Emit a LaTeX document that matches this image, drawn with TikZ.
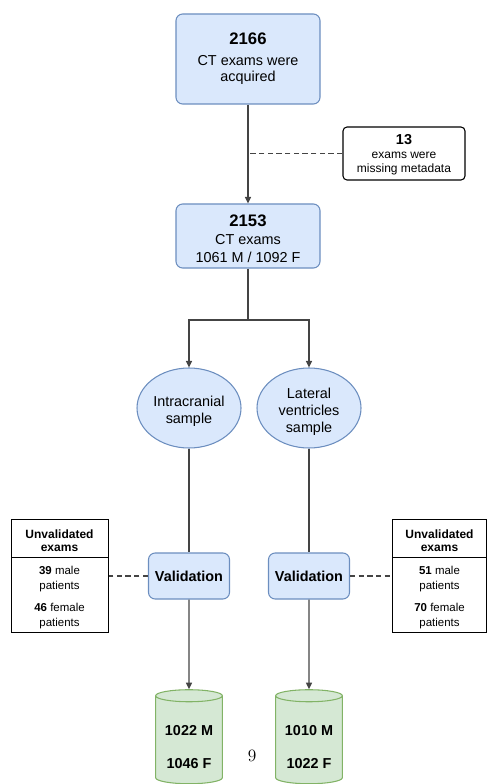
\documentclass[tikz,border=0pt]{standalone}
\usepackage{fontspec}
\setsansfont{Liberation Sans}
\usetikzlibrary{shapes.geometric,arrows.meta}

\definecolor{boxblue}{HTML}{DAE8FC}
\definecolor{edgeblue}{HTML}{6C8EBF}
\definecolor{boxgreen}{HTML}{D5E8D4}
\definecolor{edgegreen}{HTML}{82B366}
\definecolor{linegray}{HTML}{444444}

\newcommand{\bignum}[1]{{\fontsize{12.5}{14}\selectfont\bfseries #1}}

\begin{document}
\begin{tikzpicture}[x=0.75pt, y=-0.75pt, font=\sffamily\fontsize{10.8}{12.5}\selectfont,
  bluebox/.style={draw=edgeblue, fill=boxblue, rounded corners=5pt, line width=0.8pt, align=center, inner sep=0pt},
  blueell/.style={ellipse, draw=edgeblue, fill=boxblue, line width=0.8pt, align=center, inner sep=0pt, minimum width=78pt, minimum height=60pt},
  notebox/.style={draw, rounded corners=3pt, line width=0.8pt, align=center, inner sep=0pt, font=\sffamily\fontsize{9}{10.5}\selectfont},
  tablecell/.style={draw, line width=0.75pt, align=center, inner sep=0pt, font=\sffamily\fontsize{8.6}{11}\selectfont},
  store/.style={cylinder, shape border rotate=90, aspect=0.25, draw=edgegreen, fill=boxgreen, line width=0.8pt, align=center, minimum width=50pt, minimum height=70.5pt, inner sep=0pt, font=\sffamily\bfseries\fontsize{10.8}{12.5}\selectfont},
  flow/.style={draw=linegray, line width=1.1pt},
  flowarrow/.style={flow, -{Triangle[length=5pt, width=4.5pt]}},
  omitted/.style={draw=linegray, line width=1.1pt, dash pattern=on 4pt off 2.5pt}
]
  \path[use as bounding box, clip] (0,0) rectangle (487,784);

  % Acquired exams
  \node[bluebox, minimum width=108pt, minimum height=67.5pt] (acquired) at (248,59) {
    \bignum{2166}\\[3pt]
    CT exams were\\
    acquired
  };

  % Missing metadata
  \node[notebox, minimum width=91.5pt, minimum height=39.75pt] (missing) at (404,153.5) {
    \rule{0pt}{10pt}{\fontsize{10.8}{12}\selectfont\bfseries 13}\\
    exams were\\
    missing metadata
  };

  % Remaining exams
  \node[bluebox, minimum width=108pt, minimum height=48pt] (exams) at (248,236) {
    \rule{0pt}{12.5pt}\bignum{2153}\\[1pt]
    CT exams\\[1pt]
    1061 M / 1092 F
  };
  \coordinate (split) at (248,320);

  % Samples
  \node[blueell] (intra) at (189,408) {\rule{0pt}{12.5pt}Intracranial\\sample};
  \node[blueell] (lateral) at (309,408) {\rule{0pt}{13.5pt}Lateral\\[0.5pt]ventricles\\[0.5pt]sample};

  % Validation
  \node[bluebox, minimum width=60.75pt, minimum height=34.5pt, font=\sffamily\bfseries\fontsize{10.8}{12.5}\selectfont] (lval) at (189,576) {Validation};
  \node[bluebox, minimum width=60.75pt, minimum height=34.5pt, font=\sffamily\bfseries\fontsize{10.8}{12.5}\selectfont] (rval) at (309,576) {Validation};

  % Unvalidated exams
  \node[tablecell, minimum width=72.75pt, minimum height=28.5pt, font=\sffamily\bfseries\fontsize{9}{10}\selectfont] (lhead) at (59.5,538) {\rule{0pt}{11pt}Unvalidated\\exams};
  \node[tablecell, minimum width=72.75pt, minimum height=56.25pt] (lbody) at (59.5,594.5) {
    \rule{0pt}{10.8pt}\textbf{39} male\\patients\\[5.5pt]
    \textbf{46} female\\patients
  };
  \node[tablecell, minimum width=70.5pt, minimum height=28.5pt, font=\sffamily\bfseries\fontsize{9}{10}\selectfont] (rhead) at (439.5,538) {\rule{0pt}{11pt}Unvalidated\\exams};
  \node[tablecell, minimum width=70.5pt, minimum height=56.25pt] (rbody) at (439.5,594.5) {
    \rule{0pt}{10.8pt}\textbf{51} male\\patients\\[5.5pt]
    \textbf{70} female\\patients
  };

  % Final datasets
  \node[store] (lstore) at (189,740) {\rule{0pt}{18.5pt}1022 M\\[12pt]1046 F};
  \node[store] (rstore) at (309,740) {\rule{0pt}{18.5pt}1010 M\\[12pt]1022 F};

  % Page number
  \node[font=\rmfamily\fontsize{13}{15}\selectfont] (page) at (252,756) {9};

  % Connectors
  \draw[flowarrow] (acquired) -- (exams);
  \draw[omitted] (missing.west) -- (missing.west -| acquired.south);
  \draw[flow] (exams) -- (split);
  \draw[flowarrow] (split) -| (intra.north);
  \draw[flowarrow] (split) -| (lateral.north);
  \draw[flow] (intra) -- (lval);
  \draw[flow] (lateral) -- (rval);
  \draw[flowarrow] (lval) -- (lstore);
  \draw[flowarrow] (rval) -- (rstore);
  \draw[omitted] (lval.west) -- (lval.west -| lbody.east);
  \draw[omitted] (rval.east) -- (rval.east -| rbody.west);
\end{tikzpicture}
\end{document}
